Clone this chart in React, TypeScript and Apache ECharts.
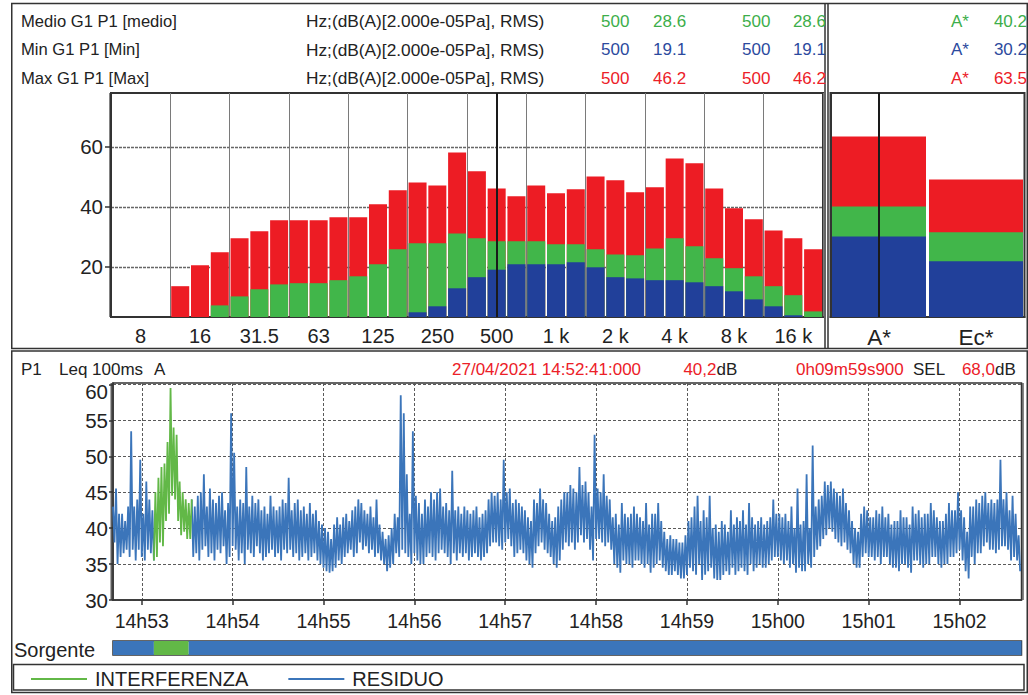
import { useEffect, useRef } from 'react';
import * as echarts from 'echarts';

const FONT = "'Liberation Sans', Arial, Helvetica, sans-serif";

// Third-octave band spectrum, dB(A)
const bands = [
  '6.3', '8', '10', '12.5', '16', '20', '25', '31.5', '40', '50', '63', '80',
  '100', '125', '160', '200', '250', '315', '400', '500', '630', '800', '1 k', '1.25 k',
  '1.6 k', '2 k', '2.5 k', '3.15 k', '4 k', '5 k', '6.3 k', '8 k', '10 k', '12.5 k', '16 k', '20 k',
];
const maxLevels = [
  null, null, null, 13.6, 20.6, 24.9, 29.6, 31.9, 35.6, 35.6, 35.6, 36.6,
  36.6, 40.9, 45.6, 48.2, 47.2, 58.2, 51.9, 46.2, 43.6, 47.2, 44.6, 45.9,
  50.2, 48.9, 44.9, 46.6, 56.2, 54.6, 46.2, 39.6, 35.9, 32.2, 29.6, 25.9,
];
const meanLevels = [
  null, null, null, null, null, 7.2, 10.2, 12.6, 14.2, 14.6, 14.6, 15.6,
  16.9, 20.9, 25.9, 27.9, 27.9, 31.2, 29.6, 28.6, 28.6, 28.6, 27.6, 27.6,
  25.9, 24.2, 23.9, 26.2, 29.6, 26.9, 22.9, 19.6, 16.9, 13.6, 10.6, 5.2,
];
const minLevels = [
  null, null, null, null, null, null, null, null, null, null, null, null,
  null, null, null, 4.9, 6.9, 12.9, 16.6, 19.1, 20.9, 20.9, 20.9, 21.6,
  19.9, 16.6, 16.2, 15.6, 15.6, 14.9, 13.6, 11.9, 9.2, 6.9, 3.9, null,
];
const spectrumTicks = [20, 40, 60];

// Overall values
const totals = ['A*', 'Ec*'];
const totalMax = [63.5, 49.2];
const totalMean = [40.2, 31.6];
const totalMin = [30.2, 21.9];

// Leq 100ms time history from 14:52:41, summarised per 2 s block:
// highest and lowest 100 ms reading of each block
const blockHigh = [
  43.0, 45.5, 42.0, 42.0, 41.0, 43.0, 53.5, 43.0, 44.0, 49.5, 42.0, 46.5, 44.0, 42.5,
  45.0, 47.0, 48.5, 49.0, 52.0, 59.5, 54.0, 53.0, 46.5, 45.0, 44.0, 43.5,
  44.0, 43.0, 44.5, 45.0, 47.5, 43.0, 45.5, 44.0, 43.5, 44.5,
  45.0, 42.5, 43.5, 56.0, 50.5, 43.0, 44.0, 43.5, 48.5, 43.0,
  44.5, 43.5, 44.0, 42.5, 43.0, 42.0, 44.5, 43.0, 42.5, 43.0,
  44.0, 43.5, 47.0, 42.5, 43.5, 44.0, 42.5, 43.0, 42.0, 43.5,
  42.0, 42.5, 41.0, 40.5, 40.0, 39.5, 38.5, 40.5, 41.5, 40.5,
  41.5, 42.0, 41.0, 42.5, 43.0, 44.0, 43.5, 42.5, 42.0, 43.0,
  41.5, 44.0, 40.5, 39.5, 38.5, 39.0, 40.0, 42.0, 41.5, 58.5,
  56.0, 47.5, 42.0, 53.5, 44.5, 43.5, 42.0, 44.0, 43.0, 45.0,
  44.0, 45.0, 45.5, 43.0, 43.5, 42.5, 48.0, 42.5, 43.0, 42.0,
  43.0, 42.5, 42.0, 42.5, 43.0, 41.5, 42.0, 42.5, 44.0, 45.0,
  44.5, 45.0, 44.0, 49.5, 45.0, 45.5, 43.5, 44.0, 43.5, 43.0,
  42.5, 41.5, 41.0, 44.0, 43.5, 45.5, 44.0, 43.5, 42.0, 41.0,
  41.5, 43.0, 44.0, 45.0,
  45.0, 46.0, 45.5, 45.0, 48.5, 46.0, 46.5, 45.0, 43.0, 53.0,
  45.5, 45.0, 47.5, 44.5, 44.0, 41.5, 42.0, 40.5, 43.5, 42.0,
  41.5, 42.0, 43.0, 42.0, 41.5, 41.0, 43.5, 40.5, 42.0, 42.0,
  43.5, 41.0, 39.5, 38.5, 39.0, 38.5, 38.5, 38.0, 38.0, 39.0,
  41.0, 41.5, 43.0, 44.5, 41.0, 42.5, 41.5, 44.5, 40.0, 40.5,
  39.5, 41.0, 40.5, 39.5, 42.5, 40.5, 41.5, 41.0, 42.5, 40.5,
  43.5, 41.5, 40.5, 41.0, 41.5, 40.5, 41.0, 41.5, 44.0, 42.0,
  42.0, 41.5, 42.0, 41.0,
  43.0, 40.0, 45.5, 40.5, 41.0, 47.5, 40.0, 51.5, 43.0, 44.0,
  44.5, 46.5, 46.0, 46.5, 45.5, 45.0, 44.5, 45.5, 43.5, 42.5,
  41.0, 40.0, 39.5, 42.0, 43.0, 42.5, 41.5, 41.5, 42.5, 42.0,
  43.0, 41.5, 42.0, 40.5, 41.0, 41.0, 42.5, 41.5, 41.5, 40.5,
  43.0, 42.0, 42.5, 41.5, 42.0, 42.0, 43.5, 42.5, 41.5, 41.0,
  41.0, 42.0, 43.5, 42.5, 42.5, 45.0, 42.5, 41.5, 39.5, 43.0,
  43.0, 44.0, 43.5, 44.5, 45.0, 43.5, 44.0, 43.5, 44.0, 49.5,
  44.0, 45.0, 42.5, 44.5, 42.0, 39.0,
];
const blockLow = [
  38.0, 35.0, 36.0, 36.5, 37.0, 36.0, 37.0, 35.5, 37.0, 36.0, 35.5, 37.0, 36.5, 35.5,
  36.0, 38.0, 37.5, 41.0, 42.0, 44.5, 44.0, 41.0, 39.0, 39.5, 38.5, 38.5,
  36.0, 36.5, 35.5, 37.0, 37.5, 36.0, 36.5, 35.5, 37.0, 36.5,
  37.5, 35.0, 36.0, 37.5, 37.0, 35.5, 36.5, 35.0, 37.0, 36.5,
  36.0, 37.5, 36.5, 35.5, 36.0, 36.5, 37.0, 36.0, 36.5, 35.5,
  37.0, 36.5, 37.0, 36.0, 36.5, 35.5, 36.0, 36.5, 35.5, 36.0,
  36.5, 35.5, 35.0, 34.5, 34.0, 33.8, 34.0, 34.5, 35.5, 35.0,
  36.0, 36.5, 37.0, 36.0, 36.5, 38.0, 37.0, 37.5, 36.5, 37.0,
  36.0, 36.5, 35.5, 35.0, 34.0, 34.5, 35.0, 36.5, 36.0, 37.0,
  36.5, 36.0, 35.0, 36.5, 35.5, 35.0, 35.0, 36.0, 36.5, 36.0,
  35.5, 36.5, 37.0, 36.5, 36.0, 35.0, 36.5, 35.5, 36.5, 36.0,
  36.5, 35.5, 36.0, 36.5, 36.0, 35.5, 36.0, 36.5, 37.5, 38.0,
  38.0, 37.5, 37.0, 38.0, 38.5, 37.5, 36.0, 36.5, 37.0, 36.5,
  35.5, 35.0, 34.5, 36.5, 37.5, 38.0, 37.0, 36.5, 36.0, 35.0,
  34.5, 35.5, 37.0, 38.0,
  37.5, 38.0, 37.0, 38.0, 39.0, 38.0, 38.5, 37.0, 35.5, 38.5,
  38.5, 38.0, 37.5, 38.0, 37.0, 35.0, 34.5, 33.8, 35.5, 35.0,
  35.0, 34.5, 35.5, 35.5, 35.0, 34.5, 35.0, 33.8, 34.5, 35.0,
  35.5, 34.5, 34.0, 33.5, 33.5, 34.0, 33.5, 33.0, 33.0, 33.5,
  34.5, 34.0, 33.5, 35.0, 32.8, 33.5, 34.0, 34.5, 33.0, 32.8,
  32.8, 33.5, 34.0, 33.5, 34.5, 33.5, 34.0, 34.5, 34.0, 33.5,
  35.0, 34.0, 34.5, 35.0, 34.5, 34.5, 35.0, 35.5, 36.0, 36.0,
  35.5, 35.0, 35.5, 34.5,
  35.0, 33.8, 34.5, 34.0, 34.0, 35.0, 34.5, 36.0, 37.0, 37.5,
  38.5, 39.0, 40.0, 39.5, 38.5, 38.0, 37.5, 38.0, 37.0, 36.5,
  35.0, 34.5, 34.5, 36.0, 36.5, 36.0, 36.0, 35.5, 36.0, 35.0,
  36.0, 36.0, 35.0, 34.5, 34.5, 34.0, 35.0, 35.0, 34.5, 33.8,
  35.5, 35.5, 35.0, 34.5, 35.0, 35.0, 36.0, 36.0, 35.0, 34.5,
  35.0, 35.0, 36.0, 36.0, 36.5, 37.0, 35.5, 34.0, 33.0, 36.0,
  35.0, 36.5, 36.5, 37.5, 38.0, 37.0, 37.0, 36.5, 37.0, 37.5,
  37.5, 37.0, 35.5, 36.0, 35.5, 34.0,
];
const levelTicks = [30, 35, 40, 45, 50, 55, 60];
const minuteTicks = ['14:53', '14:54', '14:55', '14:56', '14:57', '14:58', '14:59', '15:00', '15:01', '15:02'];
const startClock = '14:52:41';
const durationSec = 599.9;
const blockSec = 2;
const interferenceFrom = '14:53:08';
const interferenceTo = '14:53:31';

const toSec = (clock: string) => {
  const [h, m, s] = clock.split(':').map(Number);
  return h * 3600 + m * 60 + (s || 0);
};
const secLabel = (v: number) => {
  const h = Math.floor(v / 3600);
  const m = Math.round((v % 3600) / 60);
  return `${h}h${String(m).padStart(2, '0')}`;
};

const C = {
  red: '#ED1C24',
  green: '#41B64A',
  blue: '#21409A',
  txtGreen: '#3DAE4A',
  txtBlue: '#2C4A9E',
  txtRed: '#EC2028',
  lineBlue: '#3B75BA',
  lineGreen: '#62B847',
  ink: '#222222',
  frame: '#333333',
};

function buildOption() {
  const t0 = toSec(startClock);
  const t1 = t0 + durationSec;
  const iFrom = toSec(interferenceFrom);
  const iTo = toSec(interferenceTo);

  // each 2 s block is drawn as its high reading followed by its low reading
  const n = Math.min(blockHigh.length, blockLow.length);
  const pts: { t: number; v: number; src: boolean }[] = [];
  for (let i = 0; i < n; i++) {
    const tb = t0 + i * blockSec;
    const src = tb >= iFrom && tb <= iTo;
    pts.push({ t: tb, v: blockHigh[i], src });
    pts.push({ t: tb + blockSec / 2, v: blockLow[i], src });
  }
  const first = pts.findIndex((p) => p.src);
  let last = -1;
  pts.forEach((p, k) => {
    if (p.src) last = k;
  });
  const residue = pts.map((p) => [p.t, p.src ? null : p.v]);
  const interf = pts
    .filter((_, k) => k >= first - 1 && k <= last + 1)
    .map((p) => [p.t, p.v]);
  const minuteValues = minuteTicks.map((m) => toSec(m));

  const txt = (text: string, x: number, y: number, fill: string, size = 17, align = 'left') => ({
    type: 'text',
    x,
    y,
    silent: true,
    style: { text, fill, fontSize: size, fontFamily: FONT, align, verticalAlign: 'middle' },
  });
  const line = (x1: number, y1: number, x2: number, y2: number, w = 1.5) => ({
    type: 'line',
    silent: true,
    shape: { x1, y1, x2, y2 },
    style: { stroke: C.frame, lineWidth: w },
  });
  const box = (x: number, y: number, width: number, height: number) => ({
    type: 'rect',
    silent: true,
    shape: { x, y, width, height },
    style: { fill: 'none', stroke: C.frame, lineWidth: 1.5 },
  });

  const rows = [
    { name: 'Medio G1 P1 [medio]', value: '28.6', total: '40.2', color: C.txtGreen, y: 21 },
    { name: 'Min G1 P1 [Min]', value: '19.1', total: '30.2', color: C.txtBlue, y: 49.5 },
    { name: 'Max G1 P1 [Max]', value: '46.2', total: '63.5', color: C.txtRed, y: 78 },
  ];
  const headerTexts: any[] = [];
  rows.forEach((r) => {
    headerTexts.push(txt(r.name, 21, r.y, C.ink, 16.6));
    headerTexts.push(txt('Hz;(dB(A)[2.000e-05Pa], RMS)', 306, r.y, C.ink, 17.3));
    headerTexts.push(txt('500', 601, r.y, r.color));
    headerTexts.push(txt(r.value, 653, r.y, r.color));
    headerTexts.push(txt('500', 742, r.y, r.color));
    headerTexts.push(txt(r.value, 826, r.y, r.color, 17, 'right'));
    headerTexts.push(txt('A*', 951, r.y, r.color));
    headerTexts.push(txt(r.total, 1027, r.y, r.color, 17, 'right'));
  });

  const graphic = [
    box(11.75, 3.5, 1015.5, 345),
    line(825, 3.5, 825, 348.5),
    line(828, 3.5, 828, 348.5),
    box(11.75, 351, 1015.5, 341.5),
    box(13.5, 664.5, 1010.5, 25.5),
    line(110, 93, 110, 317, 1.2),
    line(111.2, 383, 111.2, 600, 1.2),
    line(1023, 383, 1023, 600, 1.2),
    ...headerTexts,
    txt('P1', 21, 369, C.ink),
    txt('Leq 100ms', 59, 369, C.ink),
    txt('A', 154, 369, C.ink),
    txt('27/04/2021 14:52:41:000', 452, 369, C.txtRed),
    txt('40,2', 716.5, 369, C.txtRed, 17, 'right'),
    txt('dB', 716.5, 369, C.ink),
    txt('0h09m59s900', 796, 369, C.txtRed),
    txt('SEL', 913, 369, C.ink),
    txt('68,0', 995, 369, C.txtRed, 17, 'right'),
    txt('dB', 995, 369, C.ink),
    txt('Sorgente', 14, 650, C.ink, 20),
  ];

  const cursor = (value: string) => ({
    silent: true,
    symbol: ['none', 'none'],
    label: { show: false },
    lineStyle: { color: '#1a1a1a', width: 2, type: 'solid' },
    emphasis: { disabled: true },
    data: [{ xAxis: value }],
  });

  const barBase = { type: 'bar', clip: true, barGap: '-100%', silent: true };

  return {
    animation: false,
    backgroundColor: '#ffffff',
    textStyle: { fontFamily: FONT },
    grid: [
      { left: 111, top: 93, width: 712, height: 224, show: true, borderColor: C.frame, borderWidth: 2 },
      { left: 830.5, top: 93, width: 194, height: 224, show: true, borderColor: C.frame, borderWidth: 2 },
      { left: 113, top: 383, width: 908.5, height: 217, show: true, borderColor: C.frame, borderWidth: 1.5 },
      { left: 113, top: 641, width: 908.5, height: 14, show: true, borderColor: C.frame, borderWidth: 1.5 },
    ],
    xAxis: [
      {
        type: 'category',
        gridIndex: 0,
        data: bands,
        boundaryGap: true,
        axisLine: { lineStyle: { color: C.frame, width: 2 } },
        axisTick: {
          alignWithLabel: true,
          length: 5,
          interval: (i: number) => i % 3 === 1,
          lineStyle: { color: C.frame, width: 1.5 },
        },
        axisLabel: {
          interval: (i: number) => i % 3 === 1,
          fontSize: 20,
          color: C.ink,
          margin: 9,
          fontFamily: FONT,
        },
        splitLine: {
          show: true,
          interval: (i: number) => i % 3 === 0 && i > 0 && i < bands.length,
          lineStyle: { color: '#7a7a7a', width: 1 },
        },
      },
      {
        type: 'category',
        gridIndex: 1,
        data: totals,
        boundaryGap: true,
        axisLine: { lineStyle: { color: C.frame, width: 2 } },
        axisTick: { alignWithLabel: true, length: 5, lineStyle: { color: C.frame, width: 1.5 } },
        axisLabel: { fontSize: 22.5, color: C.ink, margin: 9, fontFamily: FONT },
        splitLine: { show: false },
      },
      {
        type: 'value',
        gridIndex: 2,
        min: t0,
        max: t1,
        axisLine: { lineStyle: { color: C.frame, width: 1.5 } },
        axisTick: { customValues: minuteValues, length: 5, lineStyle: { color: C.frame, width: 1.5 } },
        axisLabel: {
          customValues: minuteValues,
          formatter: (v: number) => secLabel(v),
          fontSize: 19.5,
          color: C.ink,
          margin: 11,
          fontFamily: FONT,
        },
        splitLine: { show: true, lineStyle: { color: '#5a5a5a', width: 1, type: [3, 2] } },
      },
      { type: 'value', gridIndex: 3, min: t0, max: t1, show: false },
    ],
    yAxis: [
      {
        type: 'value',
        gridIndex: 0,
        min: 3.33,
        max: 78,
        axisLine: { show: true, lineStyle: { color: C.frame, width: 2 } },
        axisTick: { show: true, customValues: spectrumTicks, length: 6, lineStyle: { color: C.frame, width: 1.5 } },
        axisLabel: { customValues: spectrumTicks, fontSize: 20.5, color: C.ink, margin: 8, fontFamily: FONT },
        splitLine: { show: true, lineStyle: { color: '#666666', width: 1.3, type: [3, 1] } },
      },
      {
        type: 'value',
        gridIndex: 1,
        min: 3.33,
        max: 78,
        axisLine: { show: true, lineStyle: { color: C.frame, width: 2 } },
        axisTick: { show: false },
        axisLabel: { show: false },
        splitLine: { show: false },
      },
      {
        type: 'value',
        gridIndex: 2,
        min: 30,
        max: 60.2,
        axisLine: { show: true, lineStyle: { color: C.frame, width: 1.5 } },
        axisTick: { show: true, customValues: levelTicks, length: 4, lineStyle: { color: C.frame, width: 1.5 } },
        axisLabel: {
          customValues: levelTicks,
          fontSize: 20.5,
          color: C.ink,
          margin: 5,
          fontFamily: FONT,
          formatter: (v: number) => (v === 60 ? '{low|60}' : String(v)),
          rich: { low: { fontSize: 20.5, color: C.ink, fontFamily: FONT, padding: [14, 0, 0, 0] } },
        },
        splitLine: { show: true, lineStyle: { color: '#5a5a5a', width: 1, type: [3, 2] } },
      },
      { type: 'value', gridIndex: 3, min: 0, max: 1, show: false },
    ],
    legend: {
      left: 26,
      top: 664,
      icon: 'rect',
      itemWidth: 56,
      itemHeight: 2,
      itemGap: 40,
      selectedMode: false,
      data: ['INTERFERENZA', 'RESIDUO'],
      textStyle: { fontSize: 20, color: C.ink, fontFamily: FONT, padding: [0, 0, 0, 3] },
    },
    graphic,
    series: [
      {
        ...barBase,
        name: 'Max',
        xAxisIndex: 0,
        yAxisIndex: 0,
        barWidth: 18,
        data: maxLevels,
        itemStyle: { color: C.red },
        markLine: cursor('500'),
      },
      { ...barBase, name: 'Medio', xAxisIndex: 0, yAxisIndex: 0, barWidth: 18, data: meanLevels, itemStyle: { color: C.green } },
      { ...barBase, name: 'Min', xAxisIndex: 0, yAxisIndex: 0, barWidth: 18, data: minLevels, itemStyle: { color: C.blue } },
      {
        ...barBase,
        name: 'Max tot',
        xAxisIndex: 1,
        yAxisIndex: 1,
        barWidth: 94,
        data: totalMax,
        itemStyle: { color: C.red },
        markLine: cursor('A*'),
      },
      { ...barBase, name: 'Medio tot', xAxisIndex: 1, yAxisIndex: 1, barWidth: 94, data: totalMean, itemStyle: { color: C.green } },
      { ...barBase, name: 'Min tot', xAxisIndex: 1, yAxisIndex: 1, barWidth: 94, data: totalMin, itemStyle: { color: C.blue } },
      {
        type: 'line',
        name: 'RESIDUO',
        xAxisIndex: 2,
        yAxisIndex: 2,
        data: residue,
        showSymbol: false,
        symbol: 'none',
        connectNulls: false,
        silent: true,
        lineStyle: { color: C.lineBlue, width: 1.8 },
        itemStyle: { color: C.lineBlue },
      },
      {
        type: 'line',
        name: 'INTERFERENZA',
        xAxisIndex: 2,
        yAxisIndex: 2,
        data: interf,
        showSymbol: false,
        symbol: 'none',
        silent: true,
        lineStyle: { color: C.lineGreen, width: 1.8 },
        itemStyle: { color: C.lineGreen },
      },
      {
        type: 'custom',
        name: 'Sorgente',
        xAxisIndex: 3,
        yAxisIndex: 3,
        silent: true,
        data: [
          [t0, iFrom, 0],
          [iFrom, iTo, 1],
          [iTo, t1, 0],
        ],
        renderItem: (_params: any, api: any) => {
          const a = api.coord([api.value(0), 1]);
          const b = api.coord([api.value(1), 0]);
          return {
            type: 'rect',
            shape: { x: a[0], y: a[1], width: b[0] - a[0], height: b[1] - a[1] },
            style: { fill: api.value(2) === 1 ? C.lineGreen : C.lineBlue },
          };
        },
      },
    ],
  };
}

export default function App() {
  const ref = useRef<HTMLDivElement>(null);
  useEffect(() => {
    if (!ref.current) return;
    const chart = echarts.init(ref.current, undefined, { renderer: 'svg' });
    chart.setOption(buildOption() as any);
    return () => chart.dispose();
  }, []);
  return (
    <div
      ref={ref}
      style={{ position: 'fixed', left: 0, top: 0, width: 1028, height: 695, background: '#fff' }}
    />
  );
}
